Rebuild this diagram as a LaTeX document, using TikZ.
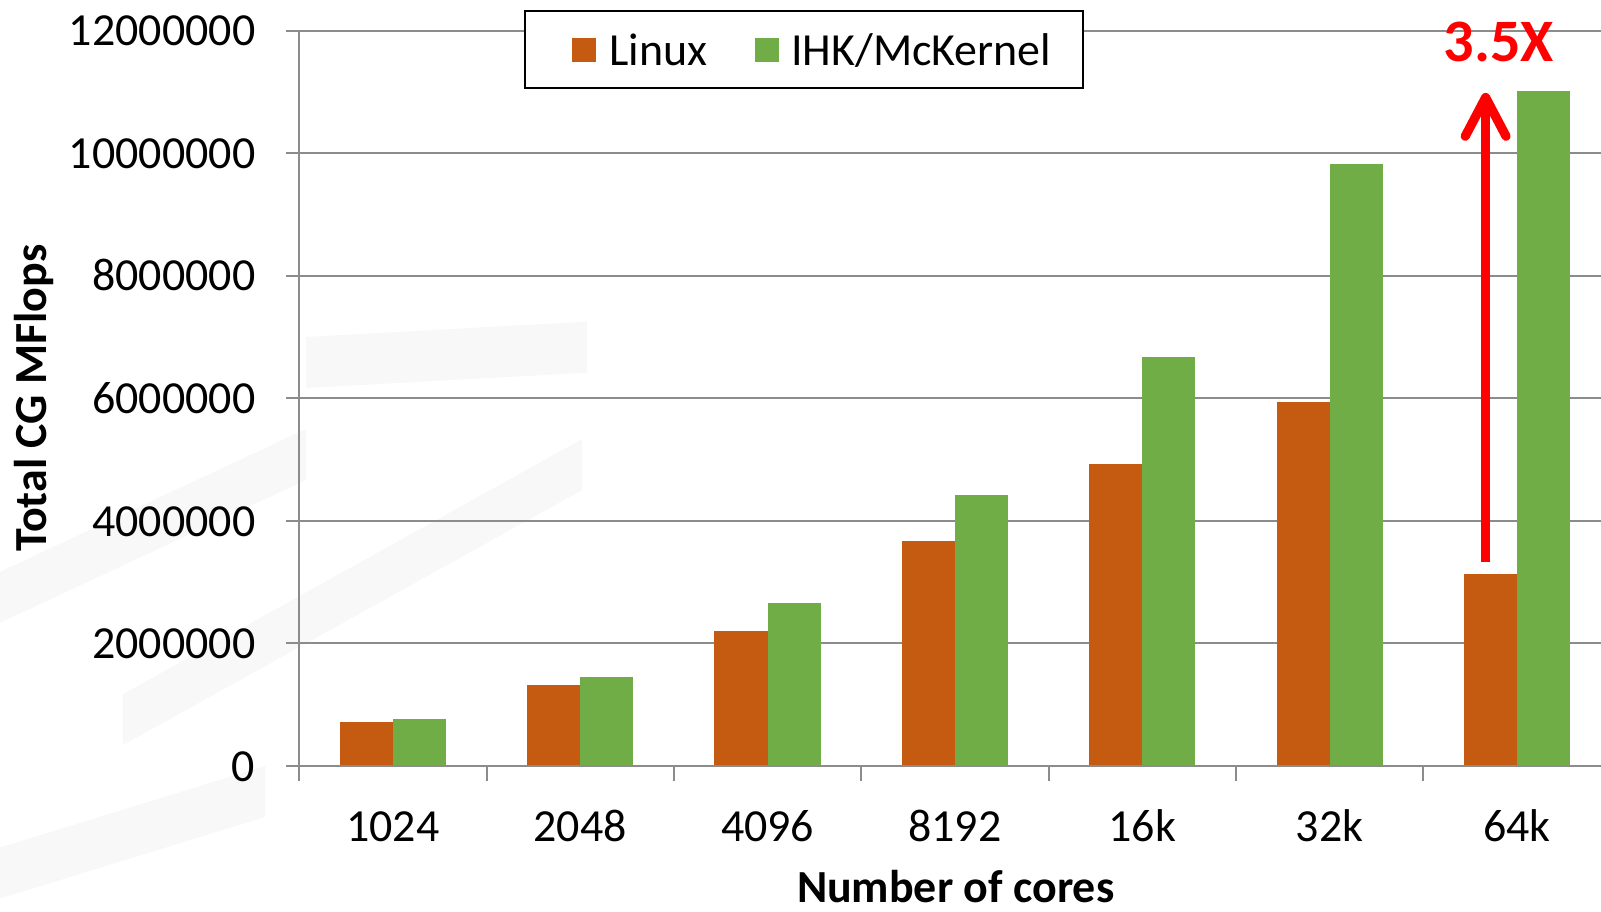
\documentclass[tikz,border=0pt]{standalone}
\usepackage{fontspec}
\setmainfont{Carlito}
\usetikzlibrary{arrows.meta}
\definecolor{linuxc}{HTML}{C55A11}
\definecolor{mckc}{HTML}{70AD47}
\definecolor{gridc}{HTML}{8C8C8C}
\definecolor{bgc}{HTML}{F8F8F8}
\begin{document}
\begin{tikzpicture}[x=0.5pt,y=-0.5pt,
  gridline/.style={draw=gridc, line width=1pt},
  lbl/.style={inner sep=0pt, outer sep=0pt, font=\fontsize{22.5}{27}\selectfont},
  boldlbl/.style={inner sep=0pt, outer sep=0pt, font=\bfseries\fontsize{22.5}{27}\selectfont},
  linuxbar/.style={fill=linuxc},
  mckbar/.style={fill=mckc},
  legendbox/.style={draw=black, fill=white, line width=1pt, inner sep=0pt, outer sep=0pt,
    minimum width=273.5pt, minimum height=37.5pt, anchor=north west},
  gain/.style={draw=red, line width=4.5pt, -{Straight Barb[length=19pt,width=20pt,round]}}
]
\useasboundingbox (0,0) rectangle (1568,893);
% faint background pattern
\fill[bgc] (0,560) -- (300,420) -- (300,470) -- (0,610) -- cycle;
\fill[bgc] (120,680) -- (570,430) -- (570,480) -- (120,730) -- cycle;
\fill[bgc] (0,830) -- (260,750) -- (260,800) -- (0,880) -- cycle;
\fill[bgc] (300,330) -- (575,315) -- (575,365) -- (300,380) -- cycle;
% gridlines
\foreach \v in {1,...,6}
  \draw[gridline] (280,750-120*\v) -- (1568,750-120*\v);
% bars
\foreach \o/\g [count=\i] in {0.72/0.77,1.32/1.45,2.2/2.65,3.67/4.42,4.92/6.68,5.93/9.82,3.13/11.02}{
  \pgfmathsetmacro\c{293+183.5*(\i-0.5)}
  \fill[linuxbar] (\c-52,750) rectangle (\c,750-60*\o);
  \fill[mckbar] (\c,750) rectangle (\c+52,750-60*\g);
}
% axes
\draw[gridline] (280,750) -- (1568,750);
\draw[gridline] (293,31) -- (293,765);
\foreach \i in {1,...,6}
  \draw[gridline] (293+183.5*\i,750) -- (293+183.5*\i,765);
% y tick labels
\foreach \v/\t in {0/0,1/2000000,2/4000000,3/6000000,4/8000000,5/10000000,6/12000000}
  \node[lbl, anchor=base east] (yt\v) at (250,765-120*\v) {\t};
% x tick labels
\foreach \t [count=\i] in {1024,2048,4096,8192,16k,32k,64k}
  \node[lbl, anchor=base] (xt\i) at (293+183.5*\i-91.75,824) {\t};
% axis titles
\node[boldlbl, anchor=base] (xtitle) at (936,884) {Number of cores};
\node[boldlbl, anchor=base, rotate=90] (ytitle) at (46,390) {Total CG MFlops};
% legend
\node[legendbox] (legend) at (514,11) {};
\fill[linuxbar] (560,37) rectangle (584,61);
\node[lbl, anchor=base west] (leglinux) at (597,64) {Linux};
\fill[mckbar] (739,37) rectangle (763,61);
\node[lbl, anchor=base west] (legmck) at (775,64) {IHK/McKernel};
% annotation
\coordinate (arrS) at (1455,550);
\coordinate (arrE) at (1455,91);
\draw[gain] (arrS) -- (arrE);
\node[inner sep=0pt, outer sep=0pt, anchor=base west, text=red,
  font=\bfseries\fontsize{29.5}{35}\selectfont] (gainlbl) at (1414,60) {3.5X};
\end{tikzpicture}
\end{document}
